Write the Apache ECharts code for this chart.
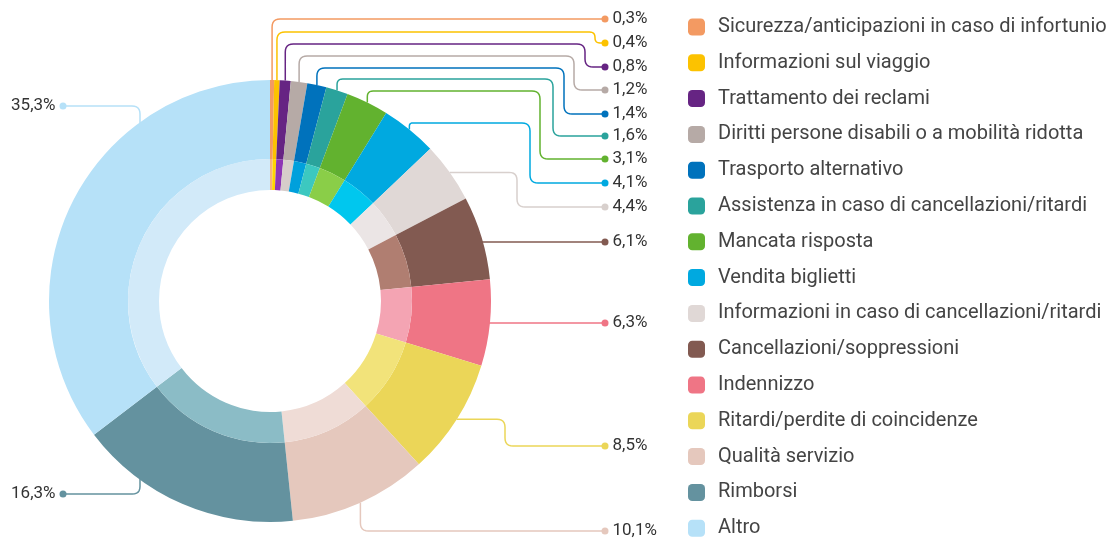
<!DOCTYPE html>
<html>
<head>
<meta charset="utf-8">
<script src="https://cdn.jsdelivr.net/npm/echarts@6/dist/echarts.min.js"></script>
<style>
  html, body { margin: 0; padding: 0; background: #fff; }
  #chart { width: 1108px; height: 540px; }
</style>
</head>
<body>
<div id="chart"></div>
<script>
// --- data ---
var categories = [
  'Sicurezza/anticipazioni in caso di infortunio',
  'Informazioni sul viaggio',
  'Trattamento dei reclami',
  'Diritti persone disabili o a mobilità ridotta',
  'Trasporto alternativo',
  'Assistenza in caso di cancellazioni/ritardi',
  'Mancata risposta',
  'Vendita biglietti',
  'Informazioni in caso di cancellazioni/ritardi',
  'Cancellazioni/soppressioni',
  'Indennizzo',
  'Ritardi/perdite di coincidenze',
  'Qualità servizio',
  'Rimborsi',
  'Altro'
];
var shares = [0.3, 0.4, 0.8, 1.2, 1.4, 1.6, 3.1, 4.1, 4.4, 6.1, 6.3, 8.5, 10.1, 16.3, 35.3];

// --- styles ---
var outerColors = ['#f39a62', '#fcc200', '#662483', '#b6aaa6', '#0072bc', '#2aa39c', '#62b22f', '#00a9e0',
                   '#e0d8d6', '#825a51', '#ef7585', '#ebd658', '#e5c8bd', '#64929f', '#b6e1f8'];
var innerColors = ['#f7b27f', '#ffd500', '#8e35b5', '#d6cdca', '#00a0dc', '#3cc8c0', '#8ace48', '#00c7ee',
                   '#ebe5e5', '#b07e71', '#f4a4b3', '#f2e37a', '#efdcd6', '#8bbcc6', '#d2eaf9'];
var lineColors = outerColors.slice();
lineColors[8] = '#d8d0cd';

var font = 'Roboto';
var CX = 270, CY = 301, R0 = 111, R1 = 142, R2 = 221;
var DOT_R = 605, DOT_L = 63;

// leader line routes (layout only)
var routeType = ['up', 'up', 'up', 'up', 'up', 'up', 'up', 'up', 'right', 'flat', 'flat', 'right', 'down', 'left', 'left'];
var labelY = [19, 43, 67, 90, 114, 136, 159, 183, 207, 242, 323, 446, 531, 494, 106];
var turnY = [19, 32, 44, 56, 68, 79, 91, 123];
var turnX = [605, 595, 585, 574, 564, 553, 540, 530, 517, null, null, 505, null, 140, 140];

var total = shares.reduce(function(a, b) { return a + b; }, 0);
function midPoint(i) {
  var cum = 0;
  for (var k = 0; k < i; k++) cum += shares[k];
  var t = (cum + shares[i] / 2) / total * Math.PI * 2;
  return [CX + R2 * Math.sin(t), CY - R2 * Math.cos(t)];
}

function roundCorners(pts, r) {
  var out = [pts[0]];
  for (var i = 1; i < pts.length - 1; i++) {
    var a = pts[i - 1], p = pts[i], b = pts[i + 1];
    var la = Math.hypot(p[0] - a[0], p[1] - a[1]), lb = Math.hypot(b[0] - p[0], b[1] - p[1]);
    if (la < 0.5 || lb < 0.5) { continue; }
    var rr = Math.min(r, la / 2, lb / 2);
    var p1 = [p[0] + (a[0] - p[0]) / la * rr, p[1] + (a[1] - p[1]) / la * rr];
    var p2 = [p[0] + (b[0] - p[0]) / lb * rr, p[1] + (b[1] - p[1]) / lb * rr];
    for (var s = 0; s <= 6; s++) {
      var u = s / 6;
      out.push([
        (1 - u) * (1 - u) * p1[0] + 2 * u * (1 - u) * p[0] + u * u * p2[0],
        (1 - u) * (1 - u) * p1[1] + 2 * u * (1 - u) * p[1] + u * u * p2[1]
      ]);
    }
  }
  out.push(pts[pts.length - 1]);
  return out;
}

function guide(i) {
  var m = midPoint(i), y = labelY[i], pts;
  switch (routeType[i]) {
    case 'up':
      pts = [m, [m[0], turnY[i]], [turnX[i], turnY[i]], [turnX[i], y], [DOT_R, y]];
      break;
    case 'right':
      pts = [m, [turnX[i], m[1]], [turnX[i], y], [DOT_R, y]];
      break;
    case 'flat':
      pts = [[CX + Math.sqrt(R2 * R2 - (y - CY) * (y - CY)) - 1, y], [DOT_R, y]];
      break;
    case 'down':
      pts = [m, [m[0], y], [DOT_R, y]];
      break;
    case 'left':
      var dx = CX - turnX[i];
      var dy = Math.sqrt(R2 * R2 - dx * dx) - 1;
      var sy = y > CY ? CY + dy : CY - dy;
      pts = [[turnX[i], sy], [turnX[i], y], [DOT_L, y]];
      break;
  }
  return roundCorners(pts, 8);
}

function fmt(v) { return v.toFixed(1).replace('.', ',') + '%'; }

var outerData = categories.map(function(name, i) {
  var left = routeType[i] === 'left';
  return {
    name: name,
    value: shares[i],
    itemStyle: { color: outerColors[i] },
    labelLine: { lineStyle: { color: lineColors[i] } },
    label: {
      formatter: left ? '{v|' + fmt(shares[i]) + '}{d|}' : '{d|}{v|' + fmt(shares[i]) + '}',
      rich: {
        d: { width: 7, height: 7, borderRadius: 3.5, backgroundColor: lineColors[i] },
        v: { fontFamily: font, fontSize: 17, color: '#333', padding: left ? [0, 4, 0, 0] : [0, 0, 0, 4] }
      }
    }
  };
});
var innerData = categories.map(function(name, i) {
  return { name: name, value: shares[i], itemStyle: { color: innerColors[i] } };
});

var chart = echarts.init(document.getElementById('chart'), null, { renderer: 'canvas' });
chart.setOption({
  animation: false,
  legend: {
    data: categories,
    orient: 'vertical',
    left: 688,
    top: 17,
    height: 523,
    padding: 0,
    itemWidth: 17,
    itemHeight: 17,
    itemGap: 15.8,
    icon: 'roundRect',
    selectedMode: false,
    textStyle: { fontFamily: font, fontSize: 20, color: '#444', lineHeight: 18, padding: [0, 0, 0, 8] }
  },
  series: [
    {
      type: 'pie',
      name: 'outer',
      center: [CX, CY],
      radius: [R1, R2],
      startAngle: 90,
      clockwise: true,
      avoidLabelOverlap: false,
      minShowLabelAngle: 0,
      silent: true,
      itemStyle: { borderWidth: 0 },
      label: { show: true, position: 'outside' },
      labelLine: { show: true, smooth: false, lineStyle: { width: 1.5 } },
      labelLayout: function(params) {
        var i = params.dataIndex;
        var left = routeType[i] === 'left';
        return {
          x: left ? DOT_L + 3.5 : DOT_R - 3.5,
          y: labelY[i],
          align: left ? 'right' : 'left',
          verticalAlign: 'middle',
          labelLinePoints: guide(i)
        };
      },
      data: outerData
    },
    {
      type: 'pie',
      name: 'inner',
      center: [CX, CY],
      radius: [R0, R1],
      startAngle: 90,
      clockwise: true,
      silent: true,
      itemStyle: { borderWidth: 0 },
      label: { show: false },
      labelLine: { show: false },
      data: innerData
    }
  ]
});
window.addEventListener('resize', function() { chart.resize(); });
</script>
</body>
</html>
